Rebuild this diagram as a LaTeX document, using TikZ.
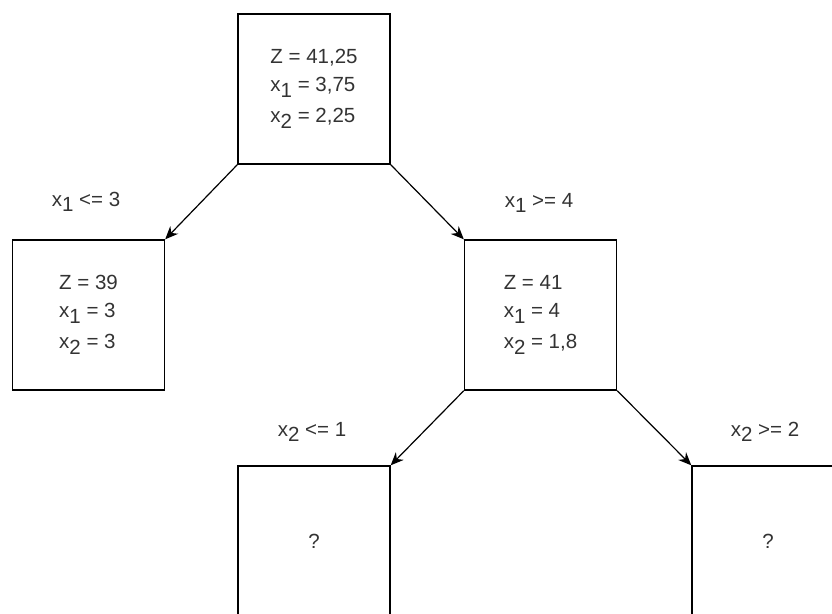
\documentclass[tikz,border=0pt]{standalone}
\usepackage{fontspec}
\setmainfont{Liberation Sans}
\usepackage{tikz}
\usetikzlibrary{arrows.meta,positioning}
\definecolor{txtgray}{RGB}{51,51,51}
\newcommand{\xs}[1]{x\raisebox{-0.55ex}{#1}}

\begin{document}
\begin{tikzpicture}[x=1pt,y=-1pt,font=\fontsize{20.5}{28}\selectfont,
  bnode/.style={draw,line width=1.4pt,minimum width=152pt,minimum height=150pt,align=left,text=txtgray,inner sep=0pt},
  cond/.style={text=txtgray,inner sep=0pt,anchor=base},
  branch/.style={-{Stealth[length=13pt,width=11pt]},line width=1.2pt}
]
  \useasboundingbox (0,0) rectangle (832,613);
  % nodes of the tree
  \node[bnode] (root) at (314,89) {Z = 41,25\\ \xs{1} = 3,75\\[3pt] \xs{2} = 2,25};
  \node[bnode] (left) at (88.5,315) {Z = 39\\ \xs{1} = 3\\[3pt] \xs{2} = 3};
  \node[bnode] (right) at (540.5,315) {Z = 41\\ \xs{1} = 4\\[3pt] \xs{2} = 1,8};
  \node[bnode] (rl) at (314,541) {?};
  \node[bnode] (rr) at (768,541) {?};
  % branch conditions
  \node[cond] (c1) at (86,206) {\xs{1} <= 3};
  \node[cond] (c2) at (539,207) {\xs{1} >= 4};
  \node[cond] (c3) at (312,436) {\xs{2} <= 1};
  \node[cond] (c4) at (765,436) {\xs{2} >= 2};
  \draw[branch] (root.south west) -- (left.north east);
  \draw[branch] (root.south east) -- (right.north west);
  \draw[branch] (right.south west) -- (rl.north east);
  \draw[branch] (right.south east) -- (rr.north west);
\end{tikzpicture}
\end{document}
